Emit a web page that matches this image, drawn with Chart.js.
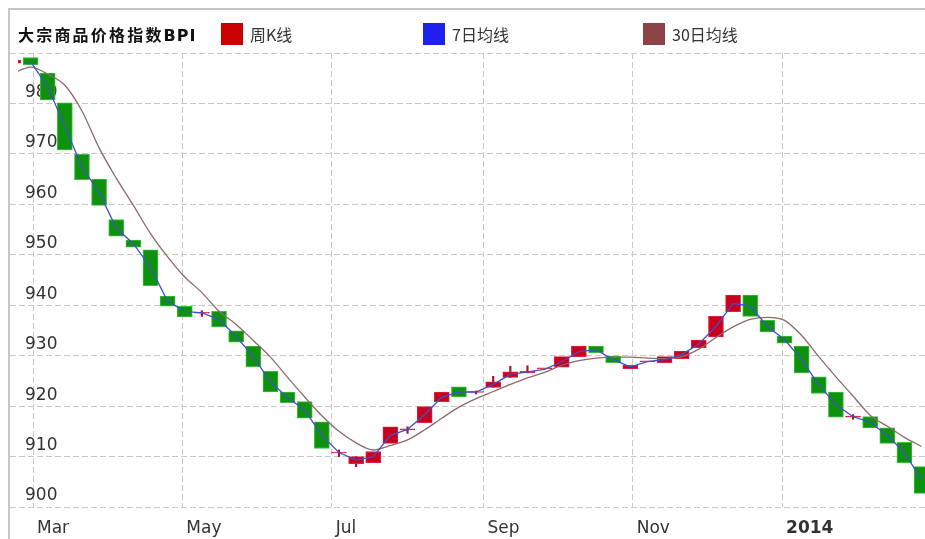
<!DOCTYPE html>
<html>
<head>
<meta charset="utf-8">
<script src="https://cdn.jsdelivr.net/npm/chart.js@4.4.1/dist/chart.umd.min.js"></script>
<style>
    body { margin: 0; background: #fff; }
    #frame {
        position: absolute; left: 8px; top: 8px; width: 915px; height: 529px;
        border-left: 2px solid #c6c6c6; border-top: 2px solid #c6c6c6; overflow: hidden;
    }
    #bpiChart { position: absolute; left: 0; top: 0; }
    .hdr {
        position: absolute; top: 13px; line-height: 22px; white-space: nowrap;
        font-family: "Noto Sans CJK SC", sans-serif; font-size: 16px; color: #333;
    }
    .title { left: 8px; font-weight: bold; font-size: 16px; color: #111; }
    .title .cjk { letter-spacing: 2.2px; }
    .title .latin { font-family: "DejaVu Sans", sans-serif; font-size: 16px; letter-spacing: 1px; }
    .box { position: absolute; top: 13px; width: 22px; height: 22px; }
</style>
</head>
<body>
<div id="frame">
    <canvas id="bpiChart" width="915" height="529"></canvas>
    <div class="hdr title"><span class="cjk">大宗商品价格指数</span><span class="latin">BPI</span></div>
    <div id="legend"></div>
</div>
<script>
// semanas (quinta-feira de cada semana)
const weeks = [
    '2013-02-21', '2013-02-28', '2013-03-07', '2013-03-14', '2013-03-21', '2013-03-28',
    '2013-04-04', '2013-04-11', '2013-04-18', '2013-04-25', '2013-05-02', '2013-05-09',
    '2013-05-16', '2013-05-23', '2013-05-30', '2013-06-06', '2013-06-13', '2013-06-20',
    '2013-06-27', '2013-07-04', '2013-07-11', '2013-07-18', '2013-07-25', '2013-08-01',
    '2013-08-08', '2013-08-15', '2013-08-22', '2013-08-29', '2013-09-05', '2013-09-12',
    '2013-09-19', '2013-09-26', '2013-10-03', '2013-10-10', '2013-10-17', '2013-10-24',
    '2013-10-31', '2013-11-07', '2013-11-14', '2013-11-21', '2013-11-28', '2013-12-05',
    '2013-12-12', '2013-12-19', '2013-12-26', '2014-01-02', '2014-01-09', '2014-01-16',
    '2014-01-23', '2014-01-30', '2014-02-06', '2014-02-13', '2014-02-20', '2014-02-27'
];

const opens = [
    988.0, 989.1, 986.0, 980.1, 969.9, 965.0, 957.0, 952.9, 951.0, 941.8,
    939.8, 938.4, 938.8, 934.9, 931.9, 926.9, 922.8, 920.9, 916.9, 910.7,
    908.6, 908.8, 912.6, 915.3, 916.7, 920.9, 923.8, 922.7, 923.7, 925.7,
    926.6, 927.4, 927.7, 929.8, 931.9, 929.9, 927.4, 928.8, 928.6, 929.4,
    931.6, 933.7, 938.7, 942.0, 937.0, 933.9, 931.9, 925.8, 922.8, 917.8,
    917.9, 915.7, 912.8, 908.0
];

const closes = [
    988.6, 987.7, 980.7, 970.8, 964.9, 959.8, 953.7, 951.5, 943.9, 939.8,
    937.7, 938.6, 935.7, 932.7, 927.8, 922.8, 920.7, 917.6, 911.6, 910.9,
    910.0, 911.0, 915.9, 915.5, 919.9, 922.8, 921.8, 922.9, 924.8, 926.8,
    926.9, 927.6, 929.8, 931.9, 930.6, 928.6, 928.1, 929.0, 929.8, 930.9,
    933.1, 937.8, 942.0, 937.8, 934.7, 932.5, 926.6, 922.5, 917.8, 918.0,
    915.7, 912.6, 908.8, 902.7
];

// pavios visíveis (índice da semana, mínima, máxima)
const wickIndex = [11, 19, 20, 23, 27, 28, 29, 30, 49];
const wickLow   = [937.8, 910.0, 908.0, 914.6, 922.4, 923.7, 925.7, 926.6, 917.4];
const wickHigh  = [938.9, 911.3, 910.0, 915.9, 923.0, 925.9, 927.9, 928.0, 918.3];

const ma7 = [
    null, 988.3, 983.3, 975.5, 967.4, 962.4, 955.3, 952.2, 947.5, 940.8,
    938.8, 938.5, 937.2, 933.8, 929.8, 924.8, 921.7, 919.2, 914.2, 910.8,
    909.3, 910.0, 914.2, 915.4, 918.3, 921.8, 922.8, 922.8, 924.3, 926.3,
    926.8, 927.3, 928.8, 930.8, 931.2, 929.2, 927.8, 928.8, 929.2, 930.2,
    932.3, 935.8, 940.3, 939.9, 935.8, 933.2, 929.2, 924.2, 920.3, 917.9,
    916.8, 914.2, 910.8, 905.3
];

const ma30 = [
    986.0, 987.2, 985.8, 983.6, 978.5, 971.2, 965.2, 959.8, 954.2, 949.6,
    945.6, 942.5, 938.8, 936.2, 933.0, 929.7, 925.7, 921.8, 918.1, 915.0,
    912.7, 911.3, 912.2, 913.3, 915.3, 917.6, 919.8, 921.5, 922.9, 924.3,
    925.6, 926.7, 928.1, 929.0, 929.5, 929.7, 929.7, 929.5, 929.4, 929.8,
    931.3, 933.6, 935.7, 937.2, 937.6, 937.0, 934.0, 929.8, 925.8, 922.0,
    918.2, 916.0, 913.8, 912.0
];

const monthTicks = ['2013-03-01', '2013-05-01', '2013-07-01', '2013-09-01', '2013-11-01', '2014-01-01'];
const monthLabels = ['Mar', 'May', 'Jul', 'Sep', 'Nov', '2014'];

const seriesNames = ['周K线', '7日均线', '30日均线'];
const seriesColors = ['#cc0000', '#2020ee', '#8b4343'];

const UP = '#c8001e', UP_BORDER = '#e02040';
const DOWN = '#0e920e', DOWN_BORDER = '#3cbd3c';

const day0 = Date.UTC(2013, 2, 1);
function toDay(s) {
    const [y, m, d] = s.split('-').map(Number);
    return (Date.UTC(y, m - 1, d) - day0) / 864e5;
}

// legenda em HTML
const legendPos = [211, 413, 633];
document.getElementById('legend').innerHTML = seriesNames.map((name, i) =>
    `<div class="box" style="left:${legendPos[i]}px;background:${seriesColors[i]}"></div>` +
    `<div class="hdr" style="left:${legendPos[i] + 29}px">${name}</div>`
).join('');

const clipArea = { left: -8, top: 2, right: 0, bottom: 2 };

const ctx = document.getElementById('bpiChart').getContext('2d');
new Chart(ctx, {
    type: 'bar',
    data: {
        datasets: [
            {
                type: 'line',
                label: seriesNames[1],
                data: weeks.map((w, i) => ({ x: toDay(w), y: ma7[i] })),
                borderColor: '#4050c8',
                borderWidth: 1.3,
                pointRadius: 0,
                tension: 0,
                clip: clipArea,
                order: 0
            },
            {
                type: 'line',
                label: seriesNames[2],
                data: weeks.map((w, i) => ({ x: toDay(w), y: ma30[i] })),
                borderColor: '#8e6a6a',
                borderWidth: 1.3,
                pointRadius: 0,
                tension: 0.4,
                cubicInterpolationMode: 'monotone',
                clip: clipArea,
                order: 1
            },
            {
                label: seriesNames[0],
                data: weeks.map((w, i) => ({ x: toDay(w), y: [opens[i], closes[i]] })),
                backgroundColor: c => closes[c.dataIndex] >= opens[c.dataIndex] ? UP : DOWN,
                borderColor: c => closes[c.dataIndex] >= opens[c.dataIndex] ? UP_BORDER : DOWN_BORDER,
                borderWidth: 1,
                borderSkipped: false,
                barThickness: 15,
                grouped: false,
                clip: clipArea,
                order: 2
            },
            {
                label: 'wick',
                data: wickIndex.map((k, i) => ({ x: toDay(weeks[k]), y: [wickLow[i], wickHigh[i]] })),
                backgroundColor: '#a8102e',
                borderWidth: 0,
                barThickness: 1.5,
                grouped: false,
                clip: clipArea,
                order: 3
            }
        ]
    },
    options: {
        responsive: false,
        animation: false,
        devicePixelRatio: 1,
        layout: { padding: { top: 43, left: 0, right: 0, bottom: 0 } },
        plugins: {
            legend: { display: false },
            tooltip: { enabled: false }
        },
        scales: {
            x: {
                type: 'linear',
                min: -9.4,
                max: 364.4,
                offset: false,
                afterBuildTicks: scale => {
                    scale.ticks = monthTicks.map(s => ({ value: toDay(s) }));
                },
                afterFit: scale => { scale.height = 32; },
                grid: { color: '#c9c9c9', lineWidth: 1, drawTicks: false, offset: false },
                border: { display: false, dash: [6, 3] },
                ticks: {
                    autoSkip: false,
                    maxRotation: 0,
                    align: 'start',
                    labelOffset: 4,
                    padding: 11,
                    color: '#333',
                    font: c => ({
                        family: 'DejaVu Sans',
                        size: 17,
                        weight: monthLabels[c.index] === '2014' ? 'bold' : 'normal'
                    }),
                    callback: (value, index) => monthLabels[index]
                }
            },
            y: {
                min: 900,
                max: 990,
                afterFit: scale => { scale.width = 0; },
                grid: { color: '#c9c9c9', lineWidth: 1, drawTicks: false },
                border: { display: false, dash: [6, 3] },
                ticks: {
                    stepSize: 10,
                    mirror: true,
                    padding: 15,
                    labelOffset: -11,
                    color: '#333',
                    font: { family: 'DejaVu Sans', size: 17 },
                    callback: value => value === 990 ? '' : value
                }
            }
        }
    }
});
</script>
</body>
</html>
